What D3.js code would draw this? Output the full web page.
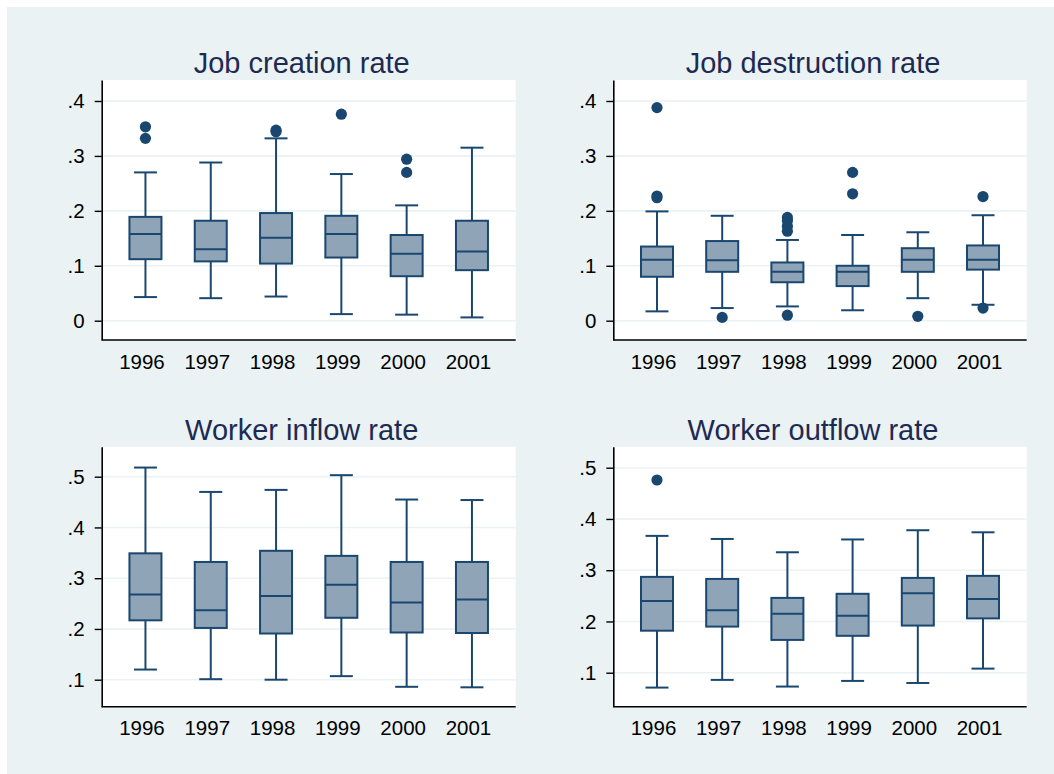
<!DOCTYPE html>
<html>
<head>
<meta charset="utf-8">
<script src="https://cdn.jsdelivr.net/npm/d3@7"></script>
<style>
  html, body { margin: 0; padding: 0; background: #ffffff; }
  svg { display: block; }
</style>
</head>
<body>
<svg id="chart" width="1054" height="774"></svg>
<script>
// ---------- DATA ----------
const years = ["1996", "1997", "1998", "1999", "2000", "2001"];

// each row: [lower whisker, Q1, median, Q3, upper whisker]
const jobCreationBoxes = [
  [0.043, 0.112, 0.158, 0.189, 0.270],
  [0.041, 0.108, 0.130, 0.182, 0.288],
  [0.044, 0.104, 0.151, 0.196, 0.332],
  [0.012, 0.115, 0.158, 0.191, 0.267],
  [0.011, 0.081, 0.122, 0.156, 0.210],
  [0.006, 0.092, 0.126, 0.182, 0.315]
];
const jobCreationOutliers = [
  ["1996", 0.353], ["1996", 0.332],
  ["1998", 0.347], ["1998", 0.344],
  ["1999", 0.376],
  ["2000", 0.294], ["2000", 0.270]
];

const jobDestructionBoxes = [
  [0.017, 0.080, 0.111, 0.135, 0.199],
  [0.023, 0.089, 0.110, 0.145, 0.191],
  [0.026, 0.070, 0.089, 0.106, 0.147],
  [0.019, 0.063, 0.089, 0.100, 0.156],
  [0.041, 0.089, 0.111, 0.132, 0.161],
  [0.029, 0.093, 0.111, 0.137, 0.192]
];
const jobDestructionOutliers = [
  ["1996", 0.388], ["1996", 0.227], ["1996", 0.224],
  ["1997", 0.006],
  ["1998", 0.188], ["1998", 0.182], ["1998", 0.172], ["1998", 0.163], ["1998", 0.010],
  ["1999", 0.270], ["1999", 0.231],
  ["2000", 0.008],
  ["2001", 0.226], ["2001", 0.023]
];

const workerInflowBoxes = [
  [0.120, 0.217, 0.268, 0.349, 0.518],
  [0.101, 0.202, 0.237, 0.332, 0.470],
  [0.100, 0.191, 0.265, 0.354, 0.474],
  [0.107, 0.222, 0.287, 0.344, 0.503],
  [0.086, 0.193, 0.252, 0.332, 0.455],
  [0.085, 0.192, 0.258, 0.332, 0.454]
];
const workerInflowOutliers = [];

const workerOutflowBoxes = [
  [0.071, 0.182, 0.240, 0.287, 0.367],
  [0.086, 0.190, 0.222, 0.283, 0.361],
  [0.073, 0.164, 0.215, 0.246, 0.335],
  [0.084, 0.172, 0.211, 0.254, 0.360],
  [0.080, 0.192, 0.255, 0.285, 0.378],
  [0.108, 0.206, 0.244, 0.289, 0.374]
];
const workerOutflowOutliers = [
  ["1996", 0.476]
];

const titles = ["Job creation rate", "Job destruction rate", "Worker inflow rate", "Worker outflow rate"];
const yTicksTop = [0, 0.1, 0.2, 0.3, 0.4];
const yTicksBottom = [0.1, 0.2, 0.3, 0.4, 0.5];

// ---------- LAYOUT / STYLE ----------
const BG = "#eaf2f3";
const NAVY = "#1a476f";
const FILL = "#90a4b8";
const TITLE = "#1e2a52";
const FONT = "'Liberation Sans', Arial, Helvetica, sans-serif";

const svg = d3.select("#chart");
svg.append("rect").attr("x", 7).attr("y", 7).attr("width", 1047).attr("height", 767).attr("fill", BG);

const panels = [
  { title: titles[0], boxes: jobCreationBoxes, outliers: jobCreationOutliers, ticks: yTicksTop,
    x0: 101.7, x1: 515.7, y0: 80, y1: 340, dom: [-0.03514, 0.43823] },
  { title: titles[1], boxes: jobDestructionBoxes, outliers: jobDestructionOutliers, ticks: yTicksTop,
    x0: 613.3, x1: 1026.7, y0: 80, y1: 340, dom: [-0.03514, 0.43823] },
  { title: titles[2], boxes: workerInflowBoxes, outliers: workerInflowOutliers, ticks: yTicksBottom,
    x0: 101.7, x1: 515.7, y0: 446.7, y1: 706.7, dom: [0.0468, 0.5591] },
  { title: titles[3], boxes: workerOutflowBoxes, outliers: workerOutflowOutliers, ticks: yTicksBottom,
    x0: 613.3, x1: 1026.7, y0: 446.7, y1: 706.7, dom: [0.0337, 0.541] }
];

const fmt = v => v === 0 ? "0" : d3.format(".1f")(v).replace(/^0/, "");

panels.forEach(p => {
  const g = svg.append("g");
  const x = d3.scalePoint().domain(years).range([p.x0, p.x1]).padding(0.67);
  const y = d3.scaleLinear().domain(p.dom).range([p.y1, p.y0]);

  // plot region
  g.append("rect").attr("x", p.x0).attr("y", p.y0)
    .attr("width", p.x1 - p.x0).attr("height", p.y1 - p.y0).attr("fill", "#ffffff");

  // gridlines
  g.selectAll(".grid").data(p.ticks).join("line")
    .attr("x1", p.x0).attr("x2", p.x1)
    .attr("y1", d => y(d)).attr("y2", d => y(d))
    .attr("stroke", BG).attr("stroke-width", 1.6);

  // title
  g.append("text")
    .attr("x", (p.x0 + p.x1) / 2 - 7).attr("y", p.y0 - 7)
    .attr("text-anchor", "middle")
    .attr("font-family", FONT).attr("font-size", 29)
    .attr("fill", TITLE).text(p.title);

  // y axis
  const yAxis = d3.axisLeft(y).tickValues(p.ticks).tickFormat(fmt)
    .tickSize(7).tickSizeOuter(0).tickPadding(10);
  const ya = g.append("g").attr("transform", `translate(${p.x0},0)`).call(yAxis);
  ya.select(".domain").attr("stroke", "#000").attr("stroke-width", 1.6);
  ya.selectAll(".tick line").attr("stroke", "#000").attr("stroke-width", 1.4);
  ya.selectAll(".tick text").attr("font-family", FONT).attr("font-size", 20.5).attr("fill", "#000");

  // x axis
  const xAxis = d3.axisBottom(x).tickSize(0).tickSizeOuter(0).tickPadding(14);
  const xa = g.append("g").attr("transform", `translate(0,${p.y1})`).call(xAxis);
  xa.select(".domain").attr("stroke", "#000").attr("stroke-width", 1.6)
    .attr("d", `M${p.x0},0H${p.x1}`);
  xa.selectAll(".tick text").attr("font-family", FONT).attr("font-size", 20.5)
    .attr("fill", "#000").attr("dx", -4);

  // boxes
  const bw = 32, cw = 23;
  const data = years.map((yr, i) => ({ yr, s: p.boxes[i] }));
  const bg = g.selectAll(".box").data(data).join("g");
  // whiskers
  bg.append("line").attr("x1", d => x(d.yr)).attr("x2", d => x(d.yr))
    .attr("y1", d => y(d.s[3])).attr("y2", d => y(d.s[4]))
    .attr("stroke", NAVY).attr("stroke-width", 2);
  bg.append("line").attr("x1", d => x(d.yr)).attr("x2", d => x(d.yr))
    .attr("y1", d => y(d.s[1])).attr("y2", d => y(d.s[0]))
    .attr("stroke", NAVY).attr("stroke-width", 2);
  // caps
  bg.append("line").attr("x1", d => x(d.yr) - cw / 2).attr("x2", d => x(d.yr) + cw / 2)
    .attr("y1", d => y(d.s[4])).attr("y2", d => y(d.s[4]))
    .attr("stroke", NAVY).attr("stroke-width", 2);
  bg.append("line").attr("x1", d => x(d.yr) - cw / 2).attr("x2", d => x(d.yr) + cw / 2)
    .attr("y1", d => y(d.s[0])).attr("y2", d => y(d.s[0]))
    .attr("stroke", NAVY).attr("stroke-width", 2);
  // box
  bg.append("rect").attr("x", d => x(d.yr) - bw / 2).attr("width", bw)
    .attr("y", d => y(d.s[3])).attr("height", d => y(d.s[1]) - y(d.s[3]))
    .attr("fill", FILL).attr("stroke", NAVY).attr("stroke-width", 2);
  // median
  bg.append("line").attr("x1", d => x(d.yr) - bw / 2).attr("x2", d => x(d.yr) + bw / 2)
    .attr("y1", d => y(d.s[2])).attr("y2", d => y(d.s[2]))
    .attr("stroke", NAVY).attr("stroke-width", 2);

  // outliers
  g.selectAll(".out").data(p.outliers).join("circle")
    .attr("cx", d => x(d[0])).attr("cy", d => y(d[1])).attr("r", 5.6)
    .attr("fill", NAVY);
});
</script>
</body>
</html>
